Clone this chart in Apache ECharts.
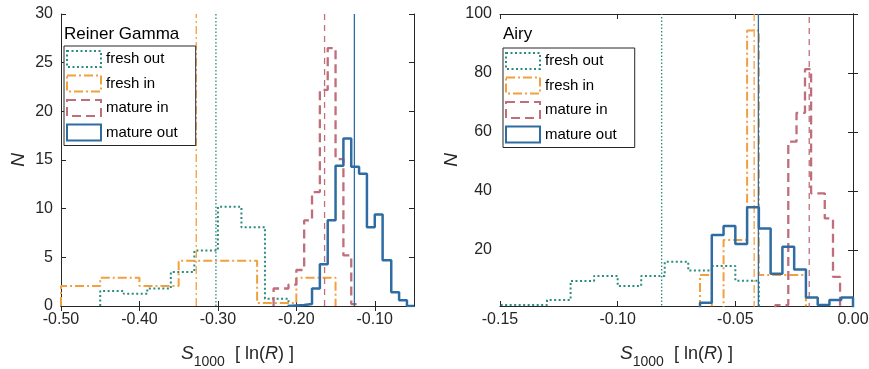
<!DOCTYPE html>
<html>
<head>
<meta charset="utf-8">
<script src="https://cdn.jsdelivr.net/npm/echarts@6/dist/echarts.min.js"></script>
<style>
  html, body { margin: 0; padding: 0; background: #fff; }
  #chart { width: 869px; height: 369px; }
</style>
</head>
<body>
<div id="chart"></div>
<script>
// series names and styles (same order in both panels)
const names = ['fresh out', 'fresh in', 'mature in', 'mature out'];
const colors = ['#2a8c7c', '#f2a03e', '#bf6e7a', '#2e6ca3'];

const rgFreshOutEdges = [-0.45, -0.42, -0.39, -0.36, -0.33, -0.30, -0.27, -0.24, -0.21];
const rgFreshOutN = [1.55, 1.25, 1.8, 3.5, 5.7, 10.2, 8.1, 0.75];
const rgFreshInEdges = [-0.50, -0.45, -0.40, -0.35, -0.25, -0.20, -0.15];
const rgFreshInN = [2.05, 2.9, 2.05, 4.65, 0.3, 2.9];
const rgMatureInEdges = [-0.229, -0.219, -0.210, -0.200, -0.190, -0.180, -0.170, -0.160, -0.150, -0.140, -0.130, -0.120];
const rgMatureInN = [1.8, 1.8, 2.2, 3.7, 8.8, 11.7, 22.2, 26.5, 15.1, 5.2, 0.2];
const rgMatureOutEdges = [-0.210, -0.200, -0.190, -0.180, -0.170, -0.160, -0.150, -0.140, -0.130, -0.120, -0.110, -0.100, -0.090, -0.079, -0.069, -0.059, -0.050];
const rgMatureOutN = [0.05, 0.1, 0.2, 1.8, 4.3, 8.8, 14.4, 17.2, 14.3, 13.6, 8.1, 9.4, 4.7, 1.4, 0.6, 0];
const rgMeans = [-0.3025, -0.3276, -0.164, -0.126];
const rgXTicks = [-0.50, -0.40, -0.30, -0.20, -0.10];
const rgYTicks = [0, 5, 10, 15, 20, 25, 30];

// Airy panel
const airyFreshOutEdges = [-0.15, -0.13, -0.12, -0.11, -0.10, -0.09, -0.08, -0.07, -0.06, -0.05, -0.04];
const airyFreshOutN = [1.3, 3.0, 9.5, 11.2, 7.8, 11.2, 16.0, 13.0, 14.6, 9.6];
const airyFreshInEdges = [-0.065, -0.060, -0.055, -0.045, -0.040, -0.020];
const airyFreshInN = [11.5, 0, 23.4, 94.4, 11.5];
const airyMatureInEdges = [-0.033, -0.0275, -0.024, -0.0204, -0.0178, -0.012, -0.0085, -0.0055];
const airyMatureInN = [1.3, 56.7, 66.5, 81.3, 39.2, 30.7, 10.9];
const airyMatureOutEdges = [-0.065, -0.060, -0.055, -0.050, -0.045, -0.040, -0.035, -0.030, -0.025, -0.020, -0.015, -0.010, -0.005, 0];
const airyMatureOutN = [2.1, 25.1, 28.1, 22.0, 34.5, 27.3, 11.9, 21.1, 13.4, 3.9, 1.3, 3.0, 3.9];
const airyMeans = [-0.0813, -0.042, -0.0186, -0.0402];
const airyXTicks = [-0.15, -0.10, -0.05, 0.00];
const airyYTicks = [20, 40, 60, 80, 100];

const font = "'Liberation Sans', Arial, sans-serif";
const axisColor = '#262626';
const histDash = [[2, 2.5], [9, 3, 2, 3], [9, 5], 'solid'];
const meanDash = [[1.5, 2], [8, 3, 2, 3], [6, 5], 'solid'];
const histWidth = [2, 2, 2.3, 2.5];

// outline of a histogram drawn as stairs
function stairs(edges, counts) {
  const pts = [[edges[0], 0]];
  counts.forEach((c, i) => {
    pts.push([edges[i], c]);
    pts.push([edges[i + 1], c]);
  });
  pts.push([edges[edges.length - 1], 0]);
  return pts;
}

function axesFor(gi, xmin, xmax, xticks, ymin, ymax, yticks, nameGapY) {
  const line = { show: true, lineStyle: { color: axisColor, width: 1 } };
  const tick = (vals) => ({ show: true, inside: true, length: 5, customValues: vals, lineStyle: { color: axisColor } });
  const xs = [
    {
      type: 'value', gridIndex: gi, min: xmin, max: xmax, position: 'bottom',
      axisLine: line, axisTick: tick(xticks), splitLine: { show: false },
      axisLabel: { customValues: xticks, formatter: v => v.toFixed(2), fontSize: 16, color: axisColor, fontFamily: font, margin: 6 },
      name: '{s|S}{sub|1000}{t|  [ ln(}{r|R}{t|) ]}',
      nameLocation: 'middle', nameGap: 33,
      nameTextStyle: {
        rich: {
          s: { fontSize: 19, fontStyle: 'italic', color: axisColor, fontFamily: font },
          sub: { fontSize: 14, color: axisColor, fontFamily: font, padding: [16, 0, 0, 0] },
          t: { fontSize: 18, color: axisColor, fontFamily: font },
          r: { fontSize: 18, fontStyle: 'italic', color: axisColor, fontFamily: font }
        }
      }
    },
    {
      type: 'value', gridIndex: gi, min: xmin, max: xmax, position: 'top',
      axisLine: line, axisTick: tick(xticks), splitLine: { show: false }, axisLabel: { show: false }
    }
  ];
  const ys = [
    {
      type: 'value', gridIndex: gi, min: ymin, max: ymax, position: 'left',
      axisLine: line, axisTick: tick(yticks), splitLine: { show: false },
      axisLabel: { customValues: yticks, fontSize: 16, color: axisColor, fontFamily: font, margin: 8 },
      name: 'N', nameLocation: 'middle', nameGap: nameGapY, nameRotate: 90,
      nameTextStyle: { fontSize: 19, fontStyle: 'italic', color: axisColor, fontFamily: font }
    },
    {
      type: 'value', gridIndex: gi, min: ymin, max: ymax, position: 'right',
      axisLine: line, axisTick: tick(yticks), splitLine: { show: false }, axisLabel: { show: false }
    }
  ];
  return { xs, ys };
}

function seriesFor(axisIdx, hists, means, ymax) {
  const out = [];
  hists.forEach((h, i) => {
    out.push({
      name: names[i], type: 'line', xAxisIndex: axisIdx, yAxisIndex: axisIdx,
      data: stairs(h[0], h[1]), symbol: 'none', animation: false, z: 2 + i,
      lineStyle: { color: colors[i], width: histWidth[i], type: histDash[i] },
      itemStyle: { color: colors[i] }
    });
    out.push({
      name: names[i] + ' mean', type: 'line', xAxisIndex: axisIdx, yAxisIndex: axisIdx,
      data: [[means[i], 0], [means[i], ymax]], symbol: 'none', animation: false, z: 2 + i,
      lineStyle: { color: colors[i], width: 1.3, type: meanDash[i] }
    });
  });
  return out;
}

function legendFor(left, top) {
  return {
    orient: 'vertical', left: left, top: top, icon: 'rect',
    itemWidth: 34, itemHeight: 16, itemGap: 6.5, itemTextGap: 2,
    padding: [4, 18, 4, 2], backgroundColor: '#fff', borderColor: axisColor, borderWidth: 1,
    selectedMode: false,
    textStyle: { fontSize: 15, color: '#000', fontFamily: font },
    data: names.map((n, i) => ({
      name: n,
      itemStyle: { color: 'rgba(0,0,0,0)', borderColor: colors[i], borderWidth: 2, borderType: histDash[i] }
    }))
  };
}

const rg = axesFor(0, -0.5, -0.05, rgXTicks, 0, 30, rgYTicks, 33);
const airy = axesFor(1, -0.15, 0, airyXTicks, 1, 100, airyYTicks, 37);

const option = {
  backgroundColor: '#fff',
  animation: false,
  grid: [
    { left: 61, top: 14, width: 353, height: 292, outerBoundsMode: 'none' },
    { left: 500, top: 14, width: 353, height: 292, outerBoundsMode: 'none' }
  ],
  title: [
    { text: 'Reiner Gamma', left: 64, top: 25, padding: 0, textStyle: { fontSize: 17, fontWeight: 'normal', color: '#000', fontFamily: font, lineHeight: 19 } },
    { text: 'Airy', left: 503, top: 25, padding: 0, textStyle: { fontSize: 17, fontWeight: 'normal', color: '#000', fontFamily: font, lineHeight: 19 } }
  ],
  legend: [legendFor(64, 46), legendFor(503, 48)],
  xAxis: [rg.xs[0], rg.xs[1], airy.xs[0], airy.xs[1]],
  yAxis: [rg.ys[0], rg.ys[1], airy.ys[0], airy.ys[1]],
  series: [].concat(
    seriesFor(0, [
      [rgFreshOutEdges, rgFreshOutN],
      [rgFreshInEdges, rgFreshInN],
      [rgMatureInEdges, rgMatureInN],
      [rgMatureOutEdges, rgMatureOutN]
    ], rgMeans, 30),
    seriesFor(2, [
      [airyFreshOutEdges, airyFreshOutN],
      [airyFreshInEdges, airyFreshInN],
      [airyMatureInEdges, airyMatureInN],
      [airyMatureOutEdges, airyMatureOutN]
    ], airyMeans, 100)
  )
};

const chart = echarts.init(document.getElementById('chart'));
chart.setOption(option);
</script>
</body>
</html>
